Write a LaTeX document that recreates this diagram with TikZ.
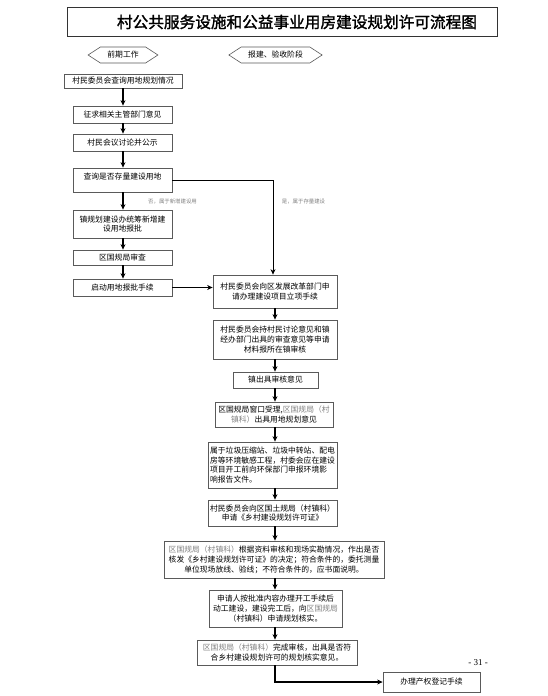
\documentclass[tikz,border=0pt]{standalone}
\usepackage{fontspec}
\setmainfont{Liberation Serif}
\newfontfamily\cjk{Noto Sans CJK SC}
\newfontfamily\cjkt[FakeBold=1.6]{Noto Sans CJK SC}
\usetikzlibrary{arrows.meta,shapes.symbols,calc}
\definecolor{bordergray}{RGB}{90,90,90}
\definecolor{txtgray}{RGB}{130,130,130}
\begin{document}
\begin{tikzpicture}[x=1pt,y=-1pt,
  box/.style 2 args={draw=bordergray, line width=0.75pt, minimum width=#1, minimum height=#2,
     inner sep=0pt, align=center, font=\cjk\fontsize{7.8}{9.8}\selectfont},
  hexa/.style={draw=bordergray, line width=0.6pt, signal, signal to=west and east,
     signal pointer angle=66, minimum height=16, inner xsep=7pt, inner ysep=1pt,
     font=\cjk\fontsize{7.8}{9.8}\selectfont},
  lbl/.style={font=\cjk\fontsize{5.4}{6}\selectfont, text=txtgray, inner sep=0pt},
  arr/.style={-{Stealth[length=5.5pt,width=5pt]}, line width=1.2pt, black},
  thin arr/.style={-{Stealth[length=5.5pt,width=5pt]}, line width=0.8pt, black}]
\useasboundingbox (0,0) rectangle (548,696);
\fill[white] (0,0) rectangle (548,696);

% title
\node[draw=black!80, line width=0.9pt, minimum width=430, minimum height=29] (title) at (282,21.5) {};
\node[inner sep=0pt] (titletext) at (297,22) {\resizebox{360pt}{!}{\cjkt\fontsize{18.9}{20}\selectfont 村公共服务设施和公益事业用房建设规划许可流程图}};

% phase headers
\node[hexa] (h1) at (123,55) {前期工作};
\node[hexa] (h2) at (275.5,55) {报建、验收阶段};

% left column
\coordinate (lx) at (123,0);
\node[box={118}{14}] (L1) at (123,81) {村民委员会查询用地规划情况};
\node[box={99}{17}] (L2) at (122.5,114.5) {征求相关主管部门意见};
\node[box={99}{17}] (L3) at (122.5,142.5) {村民会议讨论并公示};
\node[box={99}{24}, text height=9.5pt, text depth=10.5pt, inner ysep=2pt, minimum height=0pt] (L4) at (122.5,180) {查询是否存量建设用地};
\node[box={99}{28}] (L5) at (122.5,224) {镇规划建设办统筹新增建\\设用地报批};
\node[box={99}{15}] (L6) at (122.5,257.5) {区国规局审查};
\node[box={99}{17}] (L7) at (122.5,287.5) {启动用地报批手续};

\node[lbl] (lab1) at (172.5,202) {否，属于新增建设用};
\node[lbl] (lab2) at (303.5,202) {是，属于存量建设};

% right column
\coordinate (cx) at (275,0);
\coordinate (vx) at (273,0);
\node[box={124}{33}] (R1) at (275,291.5) {村民委员会向区发展改革部门申\\请办理建设项目立项手续};
\node[box={124}{39}] (R2) at (275,339.5) {村民委员会持村民讨论意见和镇\\经办部门出具的审查意见等申请\\材料报所在镇审核};
\node[box={85}{16}] (R3) at (275.5,380) {镇出具审核意见};
\node[box={118}{25}] (R4) at (274,414.5) {区国规局窗口受理,\textcolor{txtgray}{区国规局（村}\\\textcolor{txtgray}{镇科）}出具用地规划意见};
\node[box={129}{46}, align=left] (R5) at (272.5,465) {属于垃圾压缩站、垃圾中转站、配电\\房等环境敏感工程，村委会应在建设\\项目开工前向环保部门申报环境影\\响报告文件。};
\node[box={129}{26}] (R6) at (272.5,513) {村民委员会向区国土规局（村镇科）\\申请《乡村建设规划许可证》};
\node[box={220}{37}] (R7) at (274,559.5) {\textcolor{txtgray}{区国规局（村镇科）}根据资料审核和现场实勘情况，作出是否\\核发《乡村建设规划许可证》的决定；符合条件的，委托测量\\单位现场放线、验线；不符合条件的，应书面说明。};
\node[box={133}{37}] (R8) at (275.5,608.5) {申请人按批准内容办理开工手续后\\动工建设，建设完工后，向\textcolor{txtgray}{区国规局}\\（村镇科）申请规划核实。};
\node[box={160}{25}] (R9) at (277,652.5) {\textcolor{txtgray}{区国规局（村镇科）}完成审核，出具是否符\\合乡村建设规划许可的规划核实意见。};
\node[box={97}{20}] (R10) at (431.5,682) {办理产权登记手续};

\node[font=\fontsize{9}{10}\selectfont, inner sep=0pt] (pg) at (478,663) {- 31 -};

% left arrows
\draw[arr] (L1.south -| lx) -- (L2.north -| lx);
\draw[arr] (L2.south -| lx) -- (L3.north -| lx);
\draw[arr] (L3.south -| lx) -- (L4.north -| lx);
\draw[arr] (L4.south -| lx) -- (L5.north -| lx);
\draw[arr] (L5.south -| lx) -- (L6.north -| lx);
\draw[arr] (L6.south -| lx) -- (L7.north -| lx);

% branch connectors
\draw[thin arr] (L4.east) -| (R1.north -| vx);
\draw[arr] (L7.east) -- (L7.east -| R1.west);

% right arrows
\draw[arr] (R1.south -| cx) -- (R2.north -| cx);
\draw[arr] (R2.south -| cx) -- (R3.north -| cx);
\draw[arr] (R3.south -| cx) -- (R4.north -| cx);
\draw[arr] (R4.south -| cx) -- (R5.north -| cx);
\draw[arr] (R5.south -| cx) -- (R6.north -| cx);
\draw[arr] (R6.south -| cx) -- (R7.north -| cx);
\draw[arr] (R7.south -| cx) -- (R8.north -| cx);
\draw[arr] (R8.south -| cx) -- (R9.north -| cx);
\draw[arr] (R9.south -| cx) |- (R10.west);
\end{tikzpicture}
\end{document}
